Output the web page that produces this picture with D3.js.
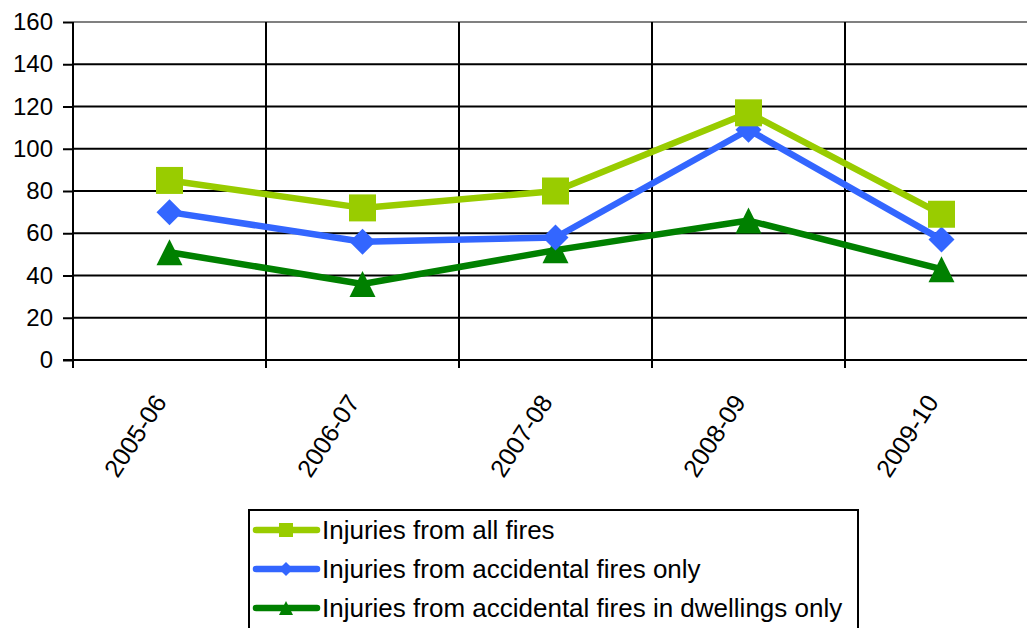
<!DOCTYPE html>
<html>
<head>
<meta charset="utf-8">
<script src="https://cdn.jsdelivr.net/npm/d3@7"></script>
<style>
  body { margin: 0; background: #fff; }
  text { font-family: "Liberation Sans", Arial, sans-serif; fill: #000; }
</style>
</head>
<body>
<div class="chart"></div>
<script>
// Fire injuries by year

var years = ["2005-06", "2006-07", "2007-08", "2008-09", "2009-10"];
var allFires = [85, 72, 80, 117, 69];
var accidentalFires = [70, 56, 58, 109, 57];
var dwellingFires = [51, 36, 52, 66, 43];
var yTicks = [0, 20, 40, 60, 80, 100, 120, 140, 160];

var seriesNames = [
  "Injuries from all fires",
  "Injuries from accidental fires only",
  "Injuries from accidental fires in dwellings only"
];

var svgWidth = 1027;
var svgHeight = 628;

var margin = { top: 22, left: 73 };
var plotRight = 1038;
var plotBottom = 360;

var svg = d3.select(".chart")
  .append("svg")
  .attr("width", svgWidth)
  .attr("height", svgHeight);

var xScale = d3.scaleBand()
  .domain(years)
  .range([margin.left, plotRight])
  .padding(0);

var yScale = d3.scaleLinear()
  .domain([0, 160])
  .range([plotBottom, margin.top]);

// marker shapes, s = half size
function square(s) {
  return `M${-s},${-s}H${s}V${s}H${-s}Z`;
}
function diamond(s) {
  return `M0,${-s}L${s},0L0,${s}L${-s},0Z`;
}
function triangle(s) {
  return `M0,${-s}L${s},${s}L${-s},${s}Z`;
}

// horizontal gridlines
svg.append("g")
  .selectAll("line")
  .data(yTicks.slice(1))
  .enter()
  .append("line")
  .attr("x1", margin.left)
  .attr("x2", plotRight)
  .attr("y1", d => yScale(d))
  .attr("y2", d => yScale(d))
  .attr("stroke", d => d == 160 ? "#808080" : "#000")
  .attr("stroke-width", 2);

// vertical gridlines at category edges
svg.append("g")
  .selectAll("line")
  .data(years.slice(1))
  .enter()
  .append("line")
  .attr("x1", d => xScale(d))
  .attr("x2", d => xScale(d))
  .attr("y1", margin.top)
  .attr("y2", plotBottom + 8)
  .attr("stroke", "#000")
  .attr("stroke-width", 2);

// y axis
var leftAxis = d3.axisLeft(yScale)
  .tickValues(yTicks)
  .tickSize(10)
  .tickPadding(10);

var yAxis = svg.append("g")
  .attr("transform", `translate(${margin.left}, 0)`)
  .call(leftAxis);

yAxis.select(".domain").remove();
yAxis.selectAll("line").attr("stroke", "#000").attr("stroke-width", 2);
yAxis.selectAll("text")
  .attr("font-size", null)
  .style("font-size", "24px")
  .attr("fill", "#000");

svg.append("line")
  .attr("x1", margin.left)
  .attr("x2", margin.left)
  .attr("y1", margin.top)
  .attr("y2", plotBottom + 8)
  .attr("stroke", "#000")
  .attr("stroke-width", 2);

// x axis line
svg.append("line")
  .attr("x1", margin.left - 10)
  .attr("x2", plotRight)
  .attr("y1", plotBottom)
  .attr("y2", plotBottom)
  .attr("stroke", "#000")
  .attr("stroke-width", 2);

// x labels, rotated
svg.append("g")
  .selectAll("text")
  .data(years)
  .enter()
  .append("text")
  .attr("transform", d => {
    var cx = xScale(d) + xScale.bandwidth() / 2 - 2;
    return `translate(${cx}, 402) rotate(-57)`;
  })
  .attr("text-anchor", "end")
  .style("font-size", "25px")
  .text(d => d);

var series = [
  { name: seriesNames[0], values: allFires, color: "#99CC00", shape: square, half: 13.5 },
  { name: seriesNames[1], values: accidentalFires, color: "#3366FF", shape: diamond, half: 13 },
  { name: seriesNames[2], values: dwellingFires, color: "#008000", shape: triangle, half: 13 }
];

var line = d3.line()
  .x((d, i) => xScale(years[i]) + xScale.bandwidth() / 2)
  .y(d => yScale(d));

// draw in reverse so all fires sits on top
series.slice().reverse().forEach(function (s) {
  svg.append("path")
    .datum(s.values)
    .attr("d", line)
    .attr("fill", "none")
    .attr("stroke", s.color)
    .attr("stroke-width", 6.5)
    .attr("stroke-linejoin", "round");

  svg.append("g")
    .selectAll("path")
    .data(s.values)
    .enter()
    .append("path")
    .attr("transform", (d, i) => `translate(${xScale(years[i]) + xScale.bandwidth() / 2}, ${yScale(d)})`)
    .attr("d", s.shape(s.half))
    .attr("fill", s.color);
});

// legend
var legend = svg.append("g")
  .attr("transform", "translate(249, 510)");

legend.append("rect")
  .attr("x", 0)
  .attr("y", 0)
  .attr("width", 609)
  .attr("height", 130)
  .attr("fill", "#fff")
  .attr("stroke", "#000")
  .attr("stroke-width", 2);

var legendItems = legend.selectAll(".item")
  .data(series)
  .enter()
  .append("g")
  .attr("class", "item")
  .attr("transform", (d, i) => `translate(0, ${20 + i * 39})`);

legendItems.append("line")
  .attr("x1", 7)
  .attr("x2", 68)
  .attr("stroke", d => d.color)
  .attr("stroke-width", 6.5)
  .attr("stroke-linecap", "round");

legendItems.append("path")
  .attr("transform", "translate(37, 0)")
  .attr("d", d => d.shape(7))
  .attr("fill", d => d.color);

legendItems.append("text")
  .attr("x", 73)
  .attr("dy", "0.36em")
  .style("font-size", "26px")
  .text(d => d.name);
</script>
</body>
</html>
